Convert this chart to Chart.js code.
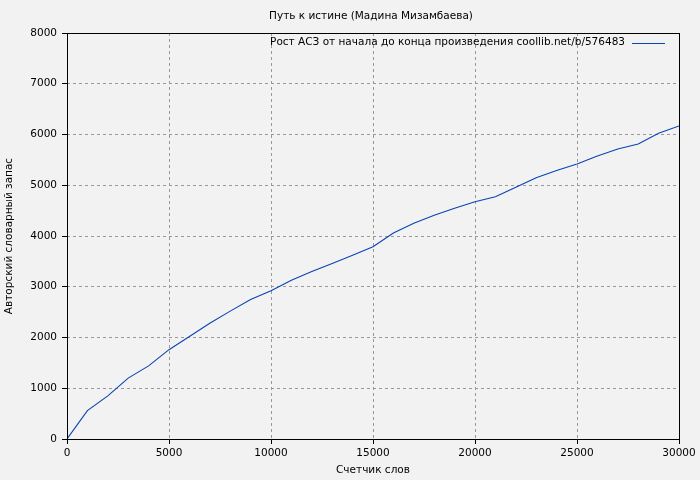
<!DOCTYPE html>
<html>
<head>
<meta charset="utf-8">
<script src="https://cdn.jsdelivr.net/npm/chart.js@4/dist/chart.umd.min.js"></script>
<style>
  body { margin: 0; background: #f2f2f2; }
  #wrap { width: 700px; height: 480px; }
</style>
</head>
<body>
<div id="wrap"><canvas id="chart" width="700" height="480"></canvas></div>
<script>
// данные
const words = [0, 1000, 2000, 3000, 4000, 5000, 6000, 7000, 8000, 9000, 10000,
  11000, 12000, 13000, 14000, 15000, 16000, 17000, 18000, 19000, 20000,
  21000, 22000, 23000, 24000, 25000, 26000, 27000, 28000, 29000, 30000];
const vocab = [0, 560, 850, 1200, 1440, 1760, 2020, 2280, 2520, 2750, 2920,
  3130, 3300, 3460, 3620, 3790, 4060, 4250, 4410, 4545, 4676,
  4774, 4960, 5150, 5290, 5420, 5576, 5714, 5813, 6023, 6167];
const xTicks = [0, 5000, 10000, 15000, 20000, 25000, 30000];
const yTicks = [0, 1000, 2000, 3000, 4000, 5000, 6000, 7000, 8000];

const chartTitle = "Путь к истине (Мадина Мизамбаева)";
const legendText = "Рост АСЗ от начала до конца произведения coollib.net/b/576483";
const lineColor = "#0844b4";
const font = "DejaVu Sans";
const fsize = 10.5;

// рамка, заголовок и легенда
const decor = {
  id: "decor",
  beforeDraw(chart) {
    const c = chart.ctx;
    c.save();
    c.fillStyle = "#f2f2f2";
    c.fillRect(0, 0, chart.width, chart.height);
    c.restore();
  },
  afterDraw(chart) {
    const c = chart.ctx;
    const a = chart.chartArea;
    // те же позиции, что у линий сетки
    const l = Math.round(a.left - 0.5) + 0.5, r = Math.round(a.right - 0.5) + 0.5;
    const t = Math.round(a.top - 0.5) + 0.5, b = Math.round(a.bottom - 0.5) + 0.5;
    c.save();
    c.strokeStyle = "#000";
    c.lineWidth = 1;
    c.strokeRect(l, t, r - l, b - t);

    c.fillStyle = "#000";
    c.font = fsize + "px '" + font + "'";
    c.textAlign = "center";
    c.textBaseline = "middle";
    c.fillText(chartTitle, 371, 16);

    c.textAlign = "right";
    c.fillText(legendText, a.right - 54, 42);
    c.strokeStyle = lineColor;
    c.beginPath();
    c.moveTo(a.right - 47, 43.5);
    c.lineTo(a.right - 14, 43.5);
    c.stroke();
    c.restore();
  }
};

const ctx = document.getElementById("chart").getContext("2d");
new Chart(ctx, {
  type: "line",
  data: {
    labels: words,
    datasets: [{
      label: legendText,
      data: words.map((w, i) => ({ x: w, y: vocab[i] })),
      borderColor: lineColor,
      borderWidth: 1.1,
      pointRadius: 0,
      tension: 0,
      fill: false
    }]
  },
  options: {
    responsive: false,
    animation: false,
    layout: { padding: { top: 33, right: 21, left: 0, bottom: 0 } },
    plugins: {
      legend: { display: false },
      title: { display: false },
      tooltip: { enabled: false }
    },
    scales: {
      x: {
        type: "linear",
        min: 0,
        max: 30000,
        afterFit: (s) => { s.height = 41; s.paddingRight = 0; s.paddingLeft = 0; },
        afterBuildTicks: (s) => { s.ticks = xTicks.map(v => ({ value: v })); },
        ticks: { color: "#000", font: { family: font, size: fsize }, padding: 3, maxRotation: 0, callback: (v) => String(v) },
        grid: { color: "#999", tickColor: "#000", tickLength: 5 },
        border: { display: false, dash: [3, 3] },
        title: { display: true, text: "Счетчик слов", color: "#000", font: { family: font, size: fsize }, padding: { top: 2, bottom: 3 } }
      },
      y: {
        min: 0,
        max: 8000,
        afterFit: (s) => { s.width = 67; s.paddingTop = 0; s.paddingBottom = 0; },
        afterBuildTicks: (s) => { s.ticks = yTicks.map(v => ({ value: v })); },
        ticks: { color: "#000", font: { family: font, size: fsize }, padding: 5, callback: (v) => String(v) },
        grid: { color: "#999", tickColor: "#000", tickLength: 5 },
        border: { display: false, dash: [3, 3] },
        title: { display: true, text: "Авторский словарный запас", color: "#000", font: { family: font, size: fsize }, padding: { top: 3, bottom: 2 } }
      }
    }
  },
  plugins: [decor]
});
</script>
</body>
</html>
